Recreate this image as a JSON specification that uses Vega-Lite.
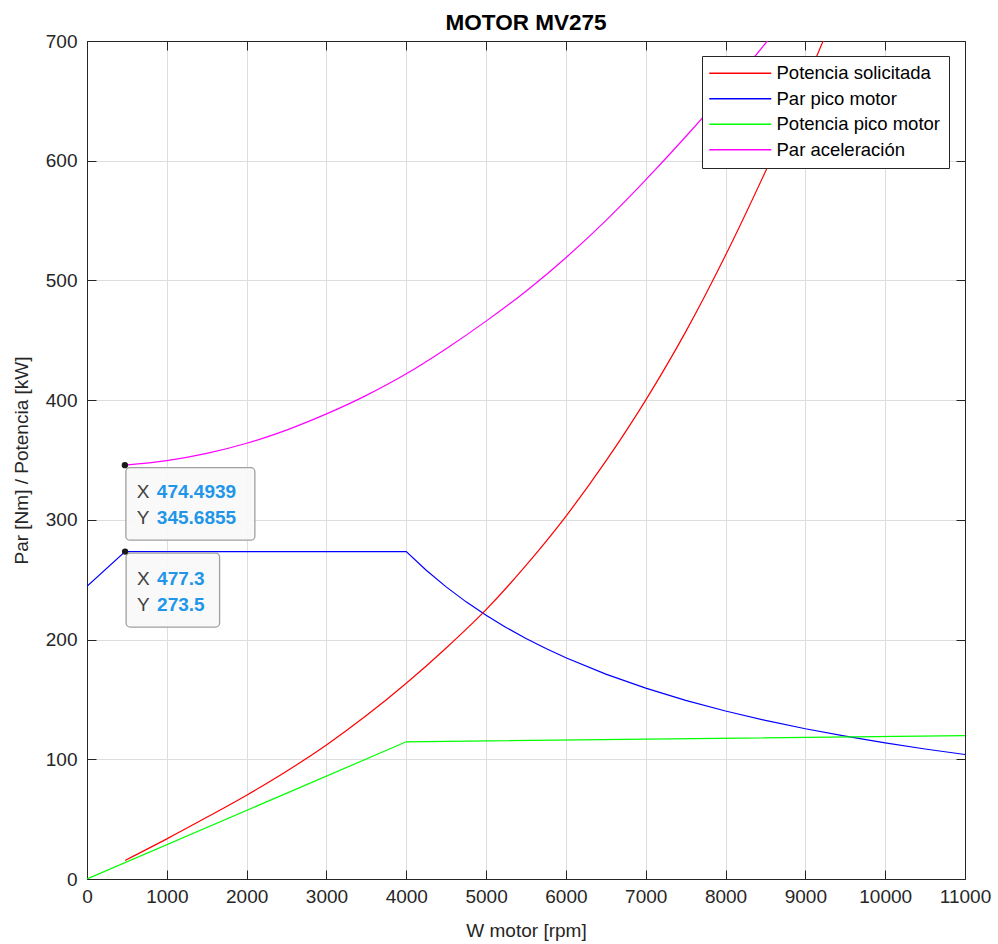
{
  "$schema": "https://vega.github.io/schema/vega-lite/v6.json",
  "width": 878,
  "height": 838,
  "autosize": "none",
  "padding": {"left": 87, "top": 41, "right": 33, "bottom": 65},
  "background": "#ffffff",
  "title": {"text": "MOTOR MV275", "font": "Liberation Sans", "fontSize": 22.5, "fontWeight": "bold", "color": "#000000", "anchor": "middle", "frame": "group", "orient": "top", "offset": -2},
  "datasets": {
    "smooth": [
      {"serie": "Potencia solicitada", "rpm": 477.3, "valor": 15.5},
      {"serie": "Potencia solicitada", "rpm": 1000, "valor": 33.5},
      {"serie": "Potencia solicitada", "rpm": 1500, "valor": 51.5},
      {"serie": "Potencia solicitada", "rpm": 2000, "valor": 70},
      {"serie": "Potencia solicitada", "rpm": 2500, "valor": 90},
      {"serie": "Potencia solicitada", "rpm": 3000, "valor": 112},
      {"serie": "Potencia solicitada", "rpm": 3500, "valor": 136.5},
      {"serie": "Potencia solicitada", "rpm": 4000, "valor": 163.5},
      {"serie": "Potencia solicitada", "rpm": 4500, "valor": 193},
      {"serie": "Potencia solicitada", "rpm": 5000, "valor": 225},
      {"serie": "Potencia solicitada", "rpm": 5500, "valor": 262},
      {"serie": "Potencia solicitada", "rpm": 6000, "valor": 303},
      {"serie": "Potencia solicitada", "rpm": 6500, "valor": 349},
      {"serie": "Potencia solicitada", "rpm": 7000, "valor": 400},
      {"serie": "Potencia solicitada", "rpm": 7500, "valor": 457},
      {"serie": "Potencia solicitada", "rpm": 8000, "valor": 521},
      {"serie": "Potencia solicitada", "rpm": 8500, "valor": 591},
      {"serie": "Potencia solicitada", "rpm": 9000, "valor": 665},
      {"serie": "Potencia solicitada", "rpm": 9500, "valor": 745},
      {"serie": "Par aceleración", "rpm": 474.4939, "valor": 345.6855},
      {"serie": "Par aceleración", "rpm": 1000, "valor": 349.5},
      {"serie": "Par aceleración", "rpm": 1500, "valor": 355.5},
      {"serie": "Par aceleración", "rpm": 2000, "valor": 364},
      {"serie": "Par aceleración", "rpm": 2500, "valor": 375},
      {"serie": "Par aceleración", "rpm": 3000, "valor": 388.5},
      {"serie": "Par aceleración", "rpm": 3500, "valor": 404},
      {"serie": "Par aceleración", "rpm": 4000, "valor": 422},
      {"serie": "Par aceleración", "rpm": 4500, "valor": 443},
      {"serie": "Par aceleración", "rpm": 5000, "valor": 466},
      {"serie": "Par aceleración", "rpm": 5500, "valor": 491},
      {"serie": "Par aceleración", "rpm": 6000, "valor": 519},
      {"serie": "Par aceleración", "rpm": 6500, "valor": 550},
      {"serie": "Par aceleración", "rpm": 7000, "valor": 584},
      {"serie": "Par aceleración", "rpm": 7500, "valor": 620},
      {"serie": "Par aceleración", "rpm": 8000, "valor": 658},
      {"serie": "Par aceleración", "rpm": 8500, "valor": 698},
      {"serie": "Par aceleración", "rpm": 9000, "valor": 740}
    ],
    "piecewise": [
      {"serie": "Par pico motor", "rpm": 0, "valor": 244.5},
      {"serie": "Par pico motor", "rpm": 477.3, "valor": 273.5},
      {"serie": "Par pico motor", "rpm": 4000, "valor": 273.5},
      {"serie": "Par pico motor", "rpm": 4250, "valor": 257.9},
      {"serie": "Par pico motor", "rpm": 4500, "valor": 244},
      {"serie": "Par pico motor", "rpm": 4750, "valor": 231.5},
      {"serie": "Par pico motor", "rpm": 5000, "valor": 220.3},
      {"serie": "Par pico motor", "rpm": 5250, "valor": 210.1},
      {"serie": "Par pico motor", "rpm": 5500, "valor": 200.9},
      {"serie": "Par pico motor", "rpm": 5750, "valor": 192.5},
      {"serie": "Par pico motor", "rpm": 6000, "valor": 184.8},
      {"serie": "Par pico motor", "rpm": 6500, "valor": 171.1},
      {"serie": "Par pico motor", "rpm": 7000, "valor": 159.4},
      {"serie": "Par pico motor", "rpm": 7500, "valor": 149.2},
      {"serie": "Par pico motor", "rpm": 8000, "valor": 140.3},
      {"serie": "Par pico motor", "rpm": 8500, "valor": 132.5},
      {"serie": "Par pico motor", "rpm": 9000, "valor": 125.5},
      {"serie": "Par pico motor", "rpm": 9500, "valor": 119.3},
      {"serie": "Par pico motor", "rpm": 10000, "valor": 113.7},
      {"serie": "Par pico motor", "rpm": 10500, "valor": 108.6},
      {"serie": "Par pico motor", "rpm": 11000, "valor": 104},
      {"serie": "Potencia pico motor", "rpm": 0, "valor": 0},
      {"serie": "Potencia pico motor", "rpm": 4000, "valor": 114.6},
      {"serie": "Potencia pico motor", "rpm": 11000, "valor": 119.8}
    ],
    "tips": [
      {"id": "a", "rpm": 474.4939, "valor": 345.6855, "xt": "474.4939", "yt": "345.6855"},
      {"id": "b", "rpm": 477.3, "valor": 273.5, "xt": "477.3", "yt": "273.5"}
    ]
  },
  "resolve": {"scale": {"x": "independent", "y": "independent"}},
  "layer": [
    {
      "data": {"name": "piecewise"},
      "mark": {"type": "line", "strokeWidth": 1.2, "clip": true},
      "encoding": {
        "x": {"field": "rpm", "type": "quantitative",
          "scale": {"domain": [0, 11000], "nice": false, "zero": false},
          "axis": {"orient": "bottom", "values": [0,1000,2000,3000,4000,5000,6000,7000,8000,9000,10000,11000], "format": "d", "grid": true, "title": "W motor [rpm]", "labelPadding": 17, "titlePadding": 15, "labelFlush": false, "labelOverlap": false}},
        "y": {"field": "valor", "type": "quantitative",
          "scale": {"domain": [0, 700], "nice": false, "zero": false},
          "axis": {"orient": "left", "values": [0,100,200,300,400,500,600,700], "grid": true, "title": "Par [Nm] / Potencia [kW]", "labelPadding": 19, "titlePadding": 14, "labelOverlap": false}},
        "color": {"field": "serie", "type": "nominal",
          "scale": {"domain": ["Potencia solicitada", "Par pico motor", "Potencia pico motor", "Par aceleración"], "range": ["#ff0000", "#0000ff", "#00ff00", "#ff00ff"]},
          "legend": {"orient": "none", "legendX": 615, "legendY": 15, "title": null, "symbolType": "M-6.2,0H6.2", "symbolSize": 100, "symbolStrokeWidth": 1.5, "symbolOffset": 21, "labelFont": "Liberation Sans", "labelFontSize": 18.5, "labelColor": "#000000", "padding": 8, "rowPadding": 6.5, "strokeColor": "#262626", "fillColor": "#ffffff", "labelOffset": 27, "labelLimit": 400}},
        "order": {"field": "rpm", "type": "quantitative"}
      }
    },
    {
      "data": {"name": "smooth"},
      "mark": {"type": "line", "strokeWidth": 1.2, "clip": true, "interpolate": "monotone"},
      "encoding": {
        "x": {"field": "rpm", "type": "quantitative",
          "scale": {"domain": [0, 11000], "nice": false, "zero": false}, "axis": null},
        "y": {"field": "valor", "type": "quantitative",
          "scale": {"domain": [0, 700], "nice": false, "zero": false}, "axis": null},
        "color": {"field": "serie", "type": "nominal",
          "scale": {"domain": ["Potencia solicitada", "Par pico motor", "Potencia pico motor", "Par aceleración"], "range": ["#ff0000", "#0000ff", "#00ff00", "#ff00ff"]},
          "legend": {"orient": "none", "legendX": 615, "legendY": 15, "title": null, "symbolType": "M-6.2,0H6.2", "symbolSize": 100, "symbolStrokeWidth": 1.5, "symbolOffset": 21, "labelFont": "Liberation Sans", "labelFontSize": 18.5, "labelColor": "#000000", "padding": 8, "rowPadding": 6.5, "strokeColor": "#262626", "fillColor": "#ffffff", "labelOffset": 27, "labelLimit": 400}},
        "order": {"field": "rpm", "type": "quantitative"}
      }
    },
    {
      "data": {"name": "piecewise"},
      "mark": {"type": "point", "opacity": 0},
      "encoding": {
        "x": {"field": "rpm", "type": "quantitative",
          "scale": {"domain": [0, 11000], "nice": false, "zero": false},
          "axis": {"orient": "top", "values": [0,1000,2000,3000,4000,5000,6000,7000,8000,9000,10000,11000], "labels": false, "grid": false, "title": null, "minExtent": 0, "maxExtent": 0}},
        "y": {"field": "valor", "type": "quantitative",
          "scale": {"domain": [0, 700], "nice": false, "zero": false},
          "axis": {"orient": "right", "values": [0,100,200,300,400,500,600,700], "labels": false, "grid": false, "title": null, "minExtent": 0, "maxExtent": 0}}
      }
    },
    {
      "data": {"name": "tips"},
      "transform": [{"filter": "datum.id == 'a'"}],
      "mark": {"type": "rect", "xOffset": 1, "x2Offset": 130, "yOffset": 2.5, "y2Offset": 75, "fill": "#f8f8f8", "fillOpacity": 0.92, "stroke": "#a0a0a0", "strokeWidth": 1.3, "cornerRadius": 4},
      "encoding": {
        "x": {"field": "rpm", "type": "quantitative", "scale": {"domain": [0, 11000], "nice": false, "zero": false}, "axis": null},
        "x2": {"field": "rpm"},
        "y": {"field": "valor", "type": "quantitative", "scale": {"domain": [0, 700], "nice": false, "zero": false}, "axis": null},
        "y2": {"field": "valor"}
      }
    },
    {
      "data": {"name": "tips"},
      "transform": [{"filter": "datum.id == 'b'"}],
      "mark": {"type": "rect", "xOffset": 1, "x2Offset": 94.5, "yOffset": 1.5, "y2Offset": 75.5, "fill": "#f8f8f8", "fillOpacity": 0.92, "stroke": "#a0a0a0", "strokeWidth": 1.3, "cornerRadius": 4},
      "encoding": {
        "x": {"field": "rpm", "type": "quantitative", "scale": {"domain": [0, 11000], "nice": false, "zero": false}, "axis": null},
        "x2": {"field": "rpm"},
        "y": {"field": "valor", "type": "quantitative", "scale": {"domain": [0, 700], "nice": false, "zero": false}, "axis": null},
        "y2": {"field": "valor"}
      }
    },
    {
      "data": {"name": "tips"},
      "mark": {"type": "point", "filled": true, "size": 40, "color": "#1a1a1a", "opacity": 1},
      "encoding": {
        "x": {"field": "rpm", "type": "quantitative", "scale": {"domain": [0, 11000], "nice": false, "zero": false}, "axis": null},
        "y": {"field": "valor", "type": "quantitative", "scale": {"domain": [0, 700], "nice": false, "zero": false}, "axis": null}
      }
    },
    {
      "data": {"name": "tips"},
      "mark": {"type": "text", "align": "left", "baseline": "middle", "dx": 12, "dy": 27, "font": "Liberation Sans", "fontSize": 19, "color": "#404040"},
      "encoding": {
        "x": {"field": "rpm", "type": "quantitative", "scale": {"domain": [0, 11000], "nice": false, "zero": false}, "axis": null},
        "y": {"field": "valor", "type": "quantitative", "scale": {"domain": [0, 700], "nice": false, "zero": false}, "axis": null},
        "text": {"value": "X"}
      }
    },
    {
      "data": {"name": "tips"},
      "mark": {"type": "text", "align": "left", "baseline": "middle", "dx": 12, "dy": 53, "font": "Liberation Sans", "fontSize": 19, "color": "#404040"},
      "encoding": {
        "x": {"field": "rpm", "type": "quantitative", "scale": {"domain": [0, 11000], "nice": false, "zero": false}, "axis": null},
        "y": {"field": "valor", "type": "quantitative", "scale": {"domain": [0, 700], "nice": false, "zero": false}, "axis": null},
        "text": {"value": "Y"}
      }
    },
    {
      "data": {"name": "tips"},
      "mark": {"type": "text", "align": "left", "baseline": "middle", "dx": 32, "dy": 27, "font": "Liberation Sans", "fontSize": 19, "fontWeight": "bold", "color": "#2196e8"},
      "encoding": {
        "x": {"field": "rpm", "type": "quantitative", "scale": {"domain": [0, 11000], "nice": false, "zero": false}, "axis": null},
        "y": {"field": "valor", "type": "quantitative", "scale": {"domain": [0, 700], "nice": false, "zero": false}, "axis": null},
        "text": {"field": "xt"}
      }
    },
    {
      "data": {"name": "tips"},
      "mark": {"type": "text", "align": "left", "baseline": "middle", "dx": 32, "dy": 53, "font": "Liberation Sans", "fontSize": 19, "fontWeight": "bold", "color": "#2196e8"},
      "encoding": {
        "x": {"field": "rpm", "type": "quantitative", "scale": {"domain": [0, 11000], "nice": false, "zero": false}, "axis": null},
        "y": {"field": "valor", "type": "quantitative", "scale": {"domain": [0, 700], "nice": false, "zero": false}, "axis": null},
        "text": {"field": "yt"}
      }
    }
  ],
  "config": {
    "view": {"stroke": "#262626", "strokeWidth": 1},
    "font": "Liberation Sans",
    "axis": {"labelFont": "Liberation Sans", "labelFontSize": 19, "labelColor": "#262626", "titleFont": "Liberation Sans", "titleFontSize": 19, "titleFontWeight": "normal", "titleColor": "#262626", "domainColor": "#262626", "tickColor": "#262626", "gridColor": "#dddddd", "tickSize": -9}
  }
}
